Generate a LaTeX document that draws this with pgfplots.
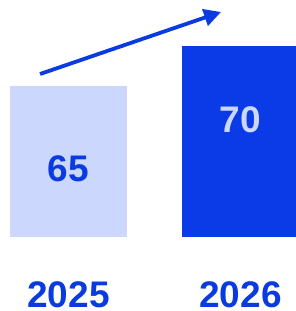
\documentclass[border=0pt]{standalone}
\usepackage{fontspec}
\setmainfont{Liberation Sans}
\usepackage{pgfplots}
\pgfplotsset{compat=1.18}
\usetikzlibrary{arrows.meta}
\definecolor{darkbar}{HTML}{0A3BE6}
\definecolor{lightbar}{HTML}{CBD7FD}
\definecolor{txtblue}{HTML}{0A3BE0}
\begin{document}
\begin{tikzpicture}
\useasboundingbox (0,-74pt) rectangle (296pt,237pt);
\begin{axis}[
  at={(0,0)}, anchor=south west,
  scale only axis, width=296pt, height=237pt,
  xmin=-0.398, xmax=1.3227,
  ymin=46.125, ymax=75.75,
  axis line style={draw=none},
  tick style={draw=none},
  ytick=\empty,
  xtick={0,1}, xticklabels={2025,2026},
  xticklabel style={anchor=center, yshift=-53pt, text=txtblue,
    font=\bfseries\fontsize{37}{37}\selectfont},
  clip mode=individual,
  ybar, bar width=0.680,
]
\addplot[ybar, bar shift=0pt, fill=lightbar, draw=none] coordinates {(0,65)};
\addplot[ybar, bar shift=0pt, fill=darkbar, draw=none] coordinates {(1,70)};
\addplot[sharp plot, draw=txtblue, line width=3.8pt,
  -{Triangle[length=17pt,width=17pt]}, mark=none] coordinates {(-0.165,66.5) (0.887,74.25)};
\node[text=txtblue, font=\bfseries\fontsize{37}{37}\selectfont] at (axis cs:0,54.6) {65};
\node[text=lightbar, font=\bfseries\fontsize{37}{37}\selectfont] at (axis cs:1,60.8) {70};
\end{axis}
\end{tikzpicture}
\end{document}
